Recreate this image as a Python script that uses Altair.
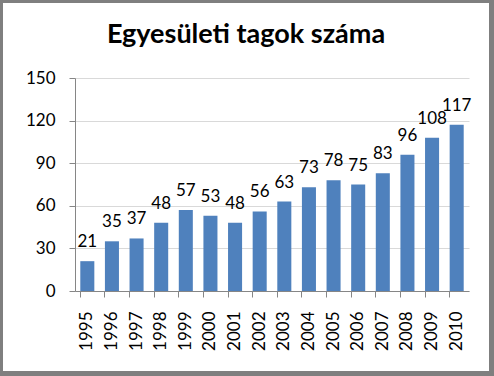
import altair as alt
import pandas as pd

years = ["1995", "1996", "1997", "1998", "1999", "2000", "2001", "2002",
         "2003", "2004", "2005", "2006", "2007", "2008", "2009", "2010"]
members = [21, 35, 37, 48, 57, 53, 48, 56, 63, 73, 78, 75, 83, 96, 108, 117]
y_ticks = [0, 30, 60, 90, 120, 150]
title_text = "Egyesületi tagok száma"

df = pd.DataFrame({"year": years, "members": members})

W, H = 394, 213
PAD = {"left": 75, "top": 78, "right": 25, "bottom": 85}
FONT = "Lato"
BORDER = "#7f7f7f"
one = pd.DataFrame({"a": [0]})

# outer chart border (with a slightly heavier right/bottom edge, like a shadow)
border = alt.Chart(one).mark_rect(filled=False, stroke=BORDER, strokeWidth=3).encode(
    x=alt.value(1.5 - PAD["left"]), x2=alt.value(490.5 - PAD["left"]),
    y=alt.value(1.5 - PAD["top"]), y2=alt.value(372.5 - PAD["top"]),
)
shadow_r = alt.Chart(one).mark_rect(color=BORDER).encode(
    x=alt.value(490 - PAD["left"]), x2=alt.value(494 - PAD["left"]),
    y=alt.value(0 - PAD["top"]), y2=alt.value(376 - PAD["top"]),
)
shadow_b = alt.Chart(one).mark_rect(color=BORDER).encode(
    x=alt.value(0 - PAD["left"]), x2=alt.value(494 - PAD["left"]),
    y=alt.value(372 - PAD["top"]), y2=alt.value(376 - PAD["top"]),
)

base = alt.Chart(df)

bars = base.mark_bar(color="#4F81BD").encode(
    x=alt.X("year:N", sort=years, title=None,
            scale=alt.Scale(paddingInner=0.43, paddingOuter=0.215),
            axis=alt.Axis(labelAngle=-90, bandPosition=0, tickSize=6,
                          labelPadding=14, domainColor="#868686",
                          tickColor="#868686", labelFont=FONT,
                          labelFontSize=17, labelColor="black", grid=False)),
    y=alt.Y("members:Q", title=None,
            scale=alt.Scale(domain=[0, 150], nice=False),
            axis=alt.Axis(values=y_ticks, tickSize=6, labelPadding=14,
                          domainColor="#868686", tickColor="#868686",
                          gridColor="#d9d9d9", labelFont=FONT,
                          labelFontSize=17, labelColor="black")),
)

labels = base.mark_text(font=FONT, fontSize=17, color="black",
                        baseline="alphabetic", dy=-14).encode(
    x=alt.X("year:N", sort=years),
    y=alt.Y("members:Q"),
    text=alt.Text("members:Q"),
)

chart = alt.layer(border, shadow_r, shadow_b, bars, labels).properties(
    width=W, height=H,
    padding=PAD,
    autosize=alt.AutoSizeParams(type="none"),
    background="white",
    title=alt.TitleParams(title_text, font=FONT, fontSize=27,
                          fontWeight="bold", color="black",
                          anchor="middle", frame="group", dx=-26, dy=26,
                          baseline="alphabetic", offset=-44),
).configure_view(stroke=None)

chart.save("out.html", embed_options={"renderer": "svg", "actions": False})
